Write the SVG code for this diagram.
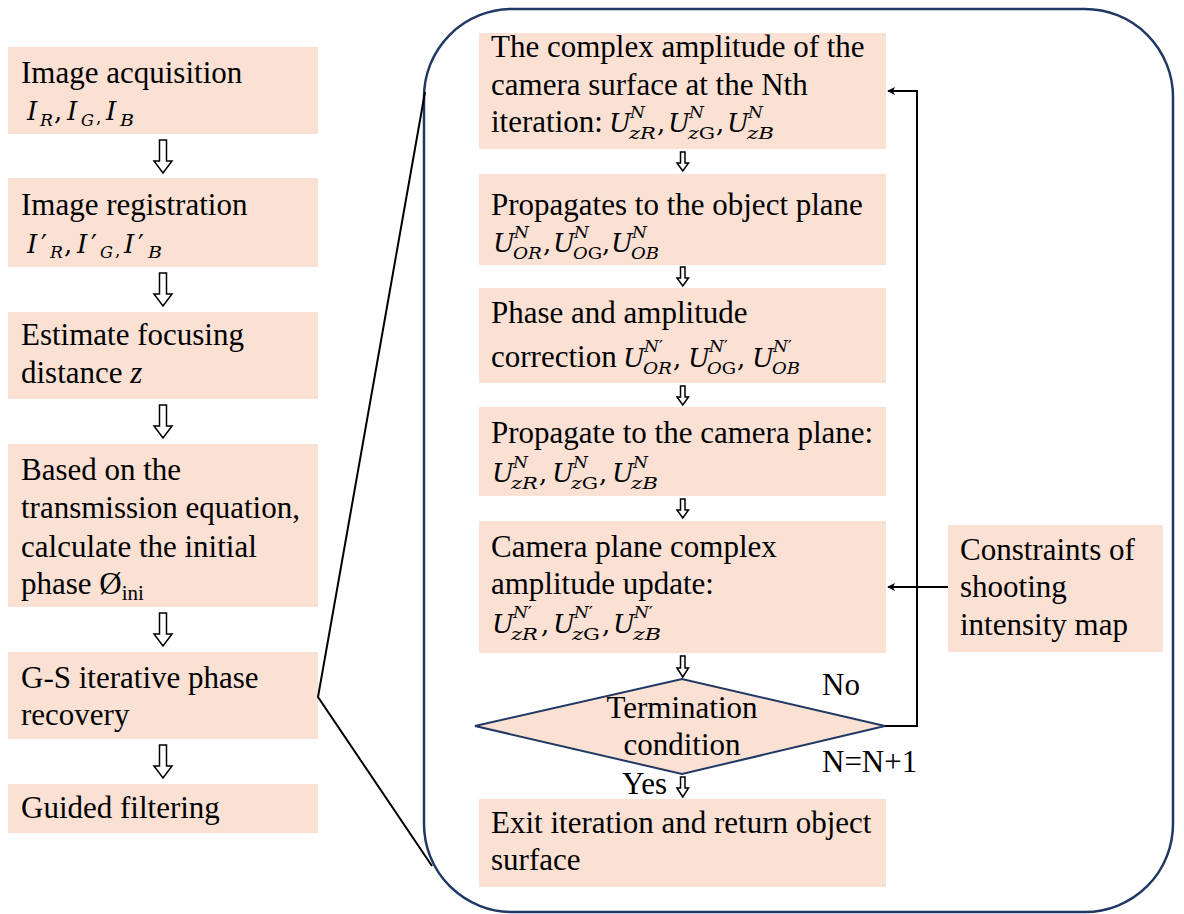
<svg xmlns="http://www.w3.org/2000/svg" width="1184" height="914" viewBox="0 0 1184 914">
<defs>
<style>
.box{fill:#fbe1d4}
.t{font-family:"Liberation Serif","Times New Roman",serif;font-size:31px;fill:#000}
.m{font-family:"DejaVu Serif","Liberation Serif",serif;font-size:26px;font-style:italic;fill:#000}
.s{font-family:"DejaVu Serif","Liberation Serif",serif;font-size:17px;font-style:italic;fill:#000}
.u{font-style:normal}
.ha{fill:#fff;stroke:#000;stroke-width:1.5;stroke-linejoin:miter}
.ln{fill:none;stroke:#000;stroke-width:2}
.zl{fill:none;stroke:#000;stroke-width:2}
</style>
<marker id="ah" viewBox="0 0 10 10" refX="9" refY="5" markerWidth="8" markerHeight="8" markerUnits="userSpaceOnUse" orient="auto">
<path d="M0,0 L10,5 L0,10 L3,5 Z" fill="#000"/>
</marker>
</defs>
<rect width="1184" height="914" fill="#fff"/>

<!-- frame -->
<g id="frame">
<rect x="424" y="9" width="749" height="903" rx="88" ry="88" fill="none" stroke="#203864" stroke-width="2.5"/>
</g>

<!-- left column -->
<g id="n1">
<rect class="box" x="8" y="47" width="310" height="87"/>
<text class="t" x="21" y="83">Image acquisition</text>
<text class="m" x="27" y="120">I</text><text class="s" x="40" y="126" textLength="13" lengthAdjust="spacingAndGlyphs">R</text><text class="m u" x="54" y="120">,</text>
<text class="m" x="67" y="120">I</text><text class="s" x="81" y="126" textLength="13" lengthAdjust="spacingAndGlyphs">G</text><text class="s u" x="96" y="123">,</text>
<text class="m" x="106" y="120">I</text><text class="s" x="120" y="126" textLength="14" lengthAdjust="spacingAndGlyphs">B</text>
</g>
<g id="n2">
<rect class="box" x="8" y="178" width="310" height="89"/>
<text class="t" x="21" y="215">Image registration</text>
<text class="m" x="27" y="253">I</text><text class="m u" x="41" y="253">′</text><text class="s" x="50" y="258" textLength="13" lengthAdjust="spacingAndGlyphs">R</text><text class="m u" x="64" y="253">,</text>
<text class="m" x="77" y="253">I</text><text class="m u" x="91" y="253">′</text><text class="s" x="100" y="258" textLength="13" lengthAdjust="spacingAndGlyphs">G</text><text class="s u" x="115" y="256">,</text>
<text class="m" x="124" y="253">I</text><text class="m u" x="138" y="253">′</text><text class="s" x="148" y="258" textLength="14" lengthAdjust="spacingAndGlyphs">B</text>
</g>
<g id="n3">
<rect class="box" x="8" y="312" width="310" height="87"/>
<text class="t" x="21" y="345">Estimate focusing</text>
<text class="t" x="21" y="383">distance <tspan font-style="italic">z</tspan></text>
</g>
<g id="n4">
<rect class="box" x="8" y="444" width="310" height="163"/>
<text class="t" x="21" y="480">Based on the</text>
<text class="t" x="21" y="518">transmission equation,</text>
<text class="t" x="21" y="557">calculate the initial</text>
<text class="t" x="21" y="594">phase Ø<tspan font-size="21" dy="6">ini</tspan></text>
</g>
<g id="n5">
<rect class="box" x="8" y="652" width="310" height="87"/>
<text class="t" x="21" y="688">G-S iterative phase</text>
<text class="t" x="21" y="725">recovery</text>
</g>
<g id="n6">
<rect class="box" x="8" y="784" width="310" height="49"/>
<text class="t" x="21" y="818">Guided filtering</text>
</g>

<!-- right column -->
<g id="r1">
<rect class="box" x="479" y="33" width="407" height="116"/>
<text class="t" x="491" y="57">The complex amplitude of the</text>
<text class="t" x="491" y="95">camera surface at the Nth</text>
<text class="t" x="491" y="132">iteration:</text>
<text class="m" x="609" y="132">U</text><text class="s" x="630" y="118">N</text><text class="s" x="629" y="139" textLength="27" lengthAdjust="spacingAndGlyphs">zR</text><text class="m u" x="657" y="132">,</text>
<text class="m" x="668" y="132">U</text><text class="s" x="689" y="118">N</text><text class="s" x="688" y="139" textLength="27" lengthAdjust="spacingAndGlyphs">z<tspan class="u">G</tspan></text><text class="m u" x="716" y="132">,</text>
<text class="m" x="727" y="132">U</text><text class="s" x="748" y="118">N</text><text class="s" x="747" y="139" textLength="27" lengthAdjust="spacingAndGlyphs">zB</text>
</g>
<g id="r2">
<rect class="box" x="479" y="174" width="407" height="91"/>
<text class="t" x="491" y="215">Propagates to the object plane</text>
<text class="m" x="493" y="252">U</text><text class="s" x="514" y="238">N</text><text class="s" x="513" y="259" textLength="29" lengthAdjust="spacingAndGlyphs">OR</text><text class="m u" x="543" y="252">,</text>
<text class="m" x="553" y="252">U</text><text class="s" x="574" y="238">N</text><text class="s" x="573" y="259" textLength="29" lengthAdjust="spacingAndGlyphs">O<tspan class="u">G</tspan></text><text class="m u" x="602" y="252">,</text>
<text class="m" x="611" y="252">U</text><text class="s" x="632" y="238">N</text><text class="s" x="631" y="259" textLength="28" lengthAdjust="spacingAndGlyphs">OB</text>
</g>
<g id="r3">
<rect class="box" x="479" y="288" width="407" height="95"/>
<text class="t" x="491" y="323">Phase and amplitude</text>
<text class="t" x="491" y="367">correction</text>
<text class="m" x="623" y="367">U</text><text class="s" x="644" y="352">N<tspan class="u">′</tspan></text><text class="s" x="643" y="374" textLength="29" lengthAdjust="spacingAndGlyphs">OR</text><text class="m u" x="673" y="367">,</text>
<text class="m" x="688" y="367">U</text><text class="s" x="709" y="352">N<tspan class="u">′</tspan></text><text class="s" x="707" y="374" textLength="29" lengthAdjust="spacingAndGlyphs">O<tspan class="u">G</tspan></text><text class="m u" x="737" y="367">,</text>
<text class="m" x="752" y="367">U</text><text class="s" x="773" y="352">N<tspan class="u">′</tspan></text><text class="s" x="772" y="374" textLength="28" lengthAdjust="spacingAndGlyphs">OB</text>
</g>
<g id="r4">
<rect class="box" x="479" y="407" width="407" height="89"/>
<text class="t" x="491" y="443">Propagate to the camera plane:</text>
<text class="m" x="492" y="482">U</text><text class="s" x="513" y="468">N</text><text class="s" x="511" y="489" textLength="27" lengthAdjust="spacingAndGlyphs">zR</text><text class="m u" x="539" y="482">,</text>
<text class="m" x="552" y="482">U</text><text class="s" x="573" y="468">N</text><text class="s" x="571" y="489" textLength="27" lengthAdjust="spacingAndGlyphs">z<tspan class="u">G</tspan></text><text class="m u" x="599" y="482">,</text>
<text class="m" x="612" y="482">U</text><text class="s" x="633" y="468">N</text><text class="s" x="631" y="489" textLength="27" lengthAdjust="spacingAndGlyphs">zB</text>
</g>
<g id="r5">
<rect class="box" x="479" y="521" width="407" height="132"/>
<text class="t" x="491" y="557">Camera plane complex</text>
<text class="t" x="491" y="594">amplitude update:</text>
<text class="m" x="492" y="633">U</text><text class="s" x="513" y="618">N<tspan class="u">′</tspan></text><text class="s" x="511" y="640" textLength="27" lengthAdjust="spacingAndGlyphs">zR</text><text class="m u" x="541" y="633">,</text>
<text class="m" x="553" y="633">U</text><text class="s" x="574" y="618">N<tspan class="u">′</tspan></text><text class="s" x="572" y="640" textLength="28" lengthAdjust="spacingAndGlyphs">z<tspan class="u">G</tspan></text><text class="m u" x="602" y="633">,</text>
<text class="m" x="613" y="633">U</text><text class="s" x="634" y="618">N<tspan class="u">′</tspan></text><text class="s" x="633" y="640" textLength="28" lengthAdjust="spacingAndGlyphs">zB</text>
</g>
<g id="r6">
<polygon points="475,726 682,679 885,726 682,774" fill="#fbe1d4" stroke="#203864" stroke-width="2"/>
<text class="t" x="682" y="718" text-anchor="middle">Termination</text>
<text class="t" x="682" y="755" text-anchor="middle">condition</text>
</g>
<g id="r7">
<rect class="box" x="479" y="799" width="407" height="88"/>
<text class="t" x="491" y="833">Exit iteration and return object</text>
<text class="t" x="491" y="870">surface</text>
</g>
<g id="c1">
<rect class="box" x="948" y="525" width="215" height="127"/>
<text class="t" x="960" y="560">Constraints of</text>
<text class="t" x="960" y="597">shooting</text>
<text class="t" x="960" y="635">intensity map</text>
</g>

<!-- connectors -->
<g id="connectors">
<path class="ha" d="M159.5,140 H166.5 V161 H172 L163,173 L154,161 H159.5 Z"/>
<path class="ha" d="M159.5,273 H166.5 V294 H172 L163,306 L154,294 H159.5 Z"/>
<path class="ha" d="M159.5,405 H166.5 V426 H172 L163,438 L154,426 H159.5 Z"/>
<path class="ha" d="M159.5,613 H166.5 V634 H172 L163,646 L154,634 H159.5 Z"/>
<path class="ha" d="M159.5,745 H166.5 V766 H172 L163,778 L154,766 H159.5 Z"/>
<path class="ha" d="M680.5,152 H685 V163 H688.5 L682.8,171 L677,163 H680.5 Z"/>
<path class="ha" d="M680.5,267 H685 V278 H688.5 L682.8,286 L677,278 H680.5 Z"/>
<path class="ha" d="M680.5,386 H685 V397 H688.5 L682.8,405 L677,397 H680.5 Z"/>
<path class="ha" d="M680.5,499 H685 V510 H688.5 L682.8,518 L677,510 H680.5 Z"/>
<path class="ha" d="M680.5,656 H685 V668 H688.5 L682.8,677 L677,668 H680.5 Z"/>
<path class="ha" d="M680.5,777 H685 V788 H688.5 L682.8,797 L677,788 H680.5 Z"/>
<polyline class="ln" points="885,726 917,726 917,91 888,91" marker-end="url(#ah)"/>
<line class="ln" x1="948" y1="587" x2="888" y2="587" marker-end="url(#ah)"/>
<polyline class="zl" points="425,92 318,697 432,866"/>
<text class="t" x="822" y="695">No</text>
<text class="t" x="822" y="772">N=N+1</text>
<text class="t" x="622" y="794">Yes</text>
</g>
</svg>
